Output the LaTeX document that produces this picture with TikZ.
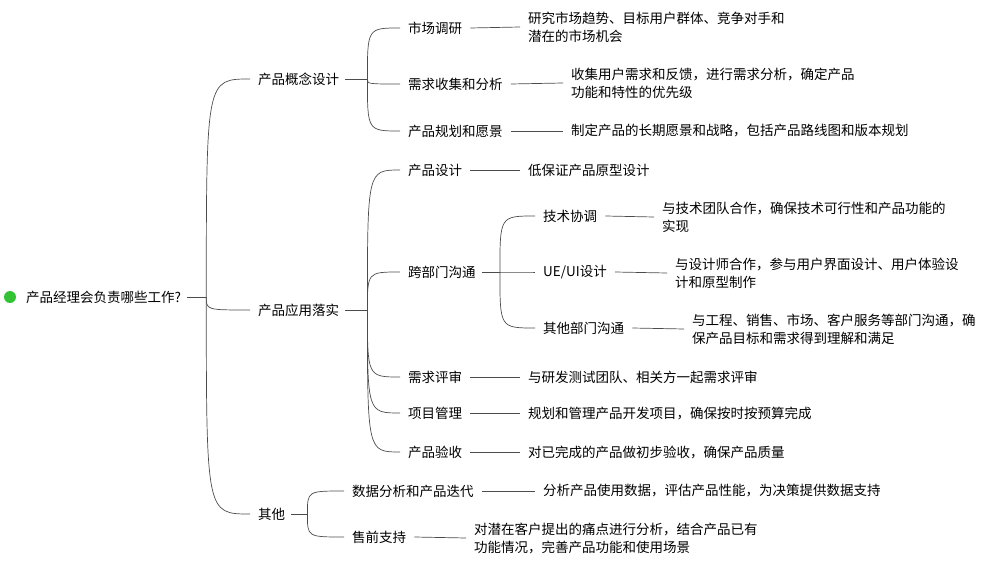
\documentclass[tikz,border=0pt]{standalone}
\usepackage{fontspec}
\setmainfont{Noto Sans CJK SC}
\tikzset{
  topic/.style={anchor=west,inner sep=0pt,font=\fontsize{13.5}{18}\selectfont},
  leaf/.style={topic,align=left},
  link/.style={draw=black!70,line width=0.7pt},
}
% fan out from parent p over junction j to children
\newcommand{\fanout}[3]{%
  \draw[link] ([xshift=6]#1.east) -- ([xshift=#2]#1.east) coordinate (#1j);
  \foreach \c in {#3}
    \draw[link] (#1j) .. controls (#1j|-\c.west) .. ([xshift=-8]\c.west);
}
\newcommand{\leafto}[2]{\draw[link] ([xshift=8]#1.east) -- ([xshift=-8]#2.west);}

\begin{document}
\begin{tikzpicture}[x=1pt,y=-1pt]
  \useasboundingbox (0,0) rectangle (1000,569);

  \fill[green!70!black!80] (10,297) circle (6);
  \node[topic] (root) at (26,297) {产品经理会负责哪些工作?};

  \node[topic] (concept) at (258,79)  {产品概念设计};
  \node[topic] (apply)   at (258,310) {产品应用落实};
  \node[topic] (other)   at (258,514) {其他};

  \node[topic] (market) at (408,28)  {市场调研};
  \node[topic] (demand) at (408,84)  {需求收集和分析};
  \node[topic] (plan)   at (408,131) {产品规划和愿景};
  \node[leaf] (marketL) at (528,27)  {研究市场趋势、目标用户群体、竞争对手和\\潜在的市场机会};
  \node[leaf] (demandL) at (571,83)  {收集用户需求和反馈，进行需求分析，确定产品\\功能和特性的优先级};
  \node[leaf] (planL)   at (571,131) {制定产品的长期愿景和战略，包括产品路线图和版本规划};

  \node[topic] (design)  at (408,170) {产品设计};
  \node[topic] (cross)   at (408,272) {跨部门沟通};
  \node[topic] (review)  at (408,377) {需求评审};
  \node[topic] (project) at (408,413) {项目管理};
  \node[topic] (accept)  at (408,452) {产品验收};
  \node[leaf] (designL)  at (528,170) {低保证产品原型设计};
  \node[leaf] (reviewL)  at (528,377) {与研发测试团队、相关方一起需求评审};
  \node[leaf] (projectL) at (528,413) {规划和管理产品开发项目，确保按时按预算完成};
  \node[leaf] (acceptL)  at (528,452) {对已完成的产品做初步验收，确保产品质量};

  \node[topic] (tech) at (543,216) {技术协调};
  \node[topic] (ui)   at (543,272) {UE/UI设计};
  \node[topic] (dept) at (543,328) {其他部门沟通};
  \node[leaf] (techL) at (662,217) {与技术团队合作，确保技术可行性和产品功能的\\实现};
  \node[leaf] (uiL)   at (675,273) {与设计师合作，参与用户界面设计、用户体验设\\计和原型制作};
  \node[leaf] (deptL) at (692,329) {与工程、销售、市场、客户服务等部门沟通，确\\保产品目标和需求得到理解和满足};

  \node[topic] (data)  at (352,491) {数据分析和产品迭代};
  \node[topic] (presale) at (352,537) {售前支持};
  \node[leaf] (dataL)  at (543,491) {分析产品使用数据，评估产品性能，为决策提供数据支持};
  \node[leaf] (presaleL) at (474,538) {对潜在客户提出的痛点进行分析，结合产品已有\\功能情况，完善产品功能和使用场景};

  \fanout{root}{25}{concept,apply,other}
  \fanout{concept}{28}{market,demand,plan}
  \fanout{apply}{28}{design,cross,review,project,accept}
  \fanout{cross}{24}{tech,ui,dept}
  \fanout{other}{22}{data,presale}

  \leafto{market}{marketL}
  \leafto{demand}{demandL}
  \leafto{plan}{planL}
  \leafto{design}{designL}
  \leafto{review}{reviewL}
  \leafto{project}{projectL}
  \leafto{accept}{acceptL}
  \leafto{tech}{techL}
  \leafto{ui}{uiL}
  \leafto{dept}{deptL}
  \leafto{data}{dataL}
  \leafto{presale}{presaleL}
\end{tikzpicture}
\end{document}
